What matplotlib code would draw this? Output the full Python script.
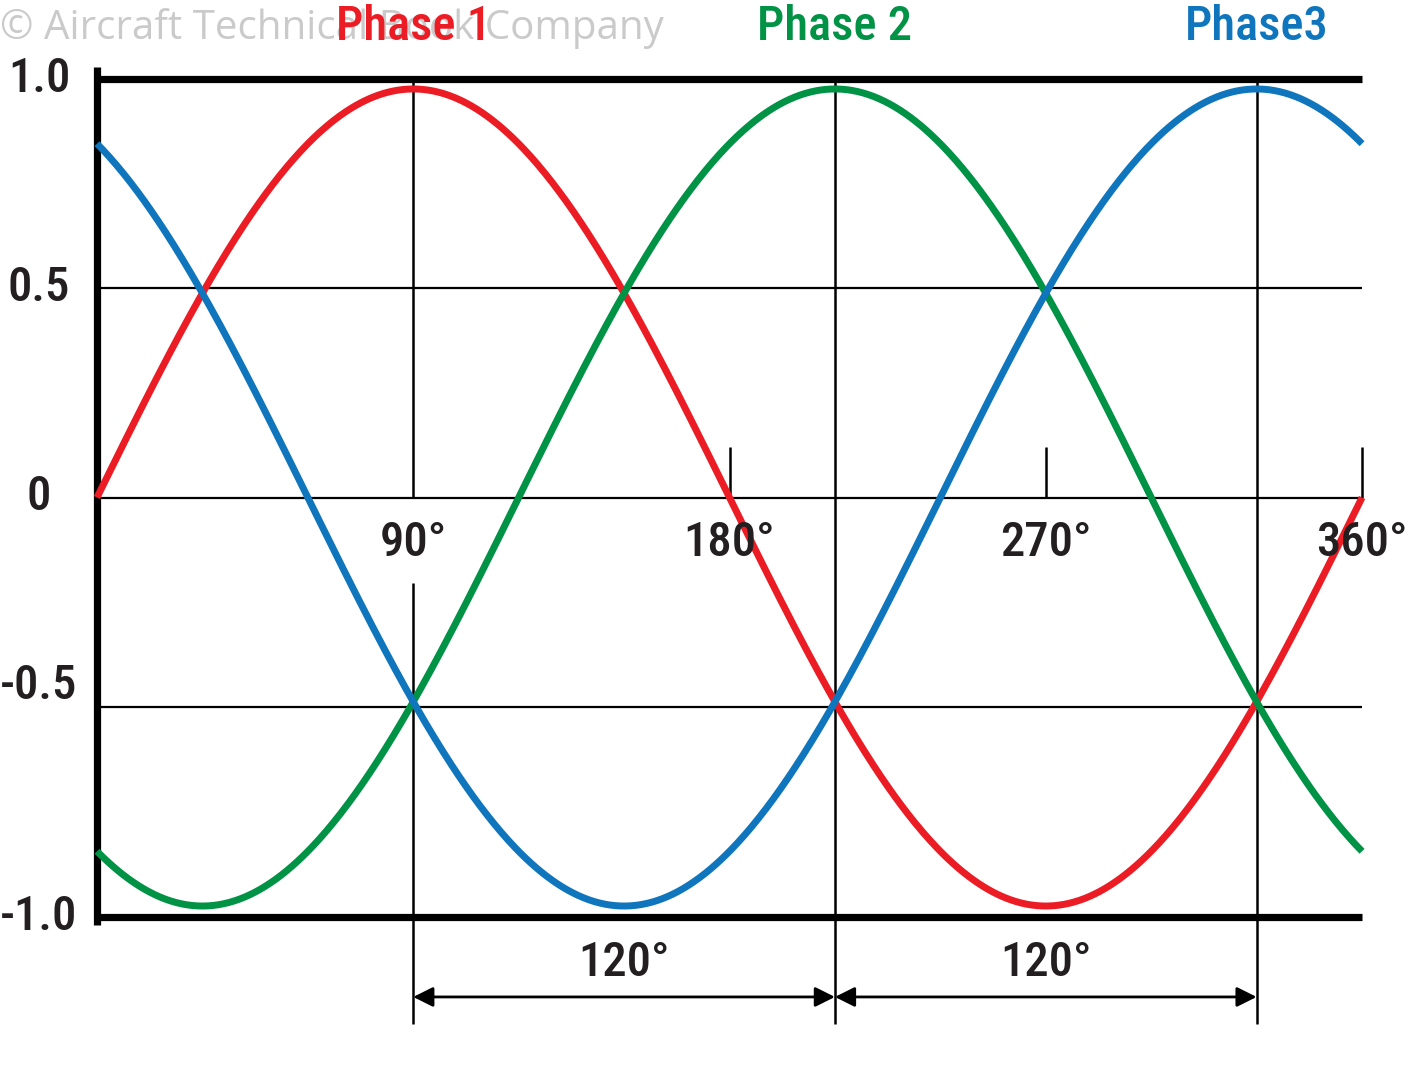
import matplotlib
matplotlib.use("Agg")
import matplotlib.pyplot as plt
import numpy as np
from matplotlib import font_manager

# chart data
phase_names = ["Phase 1", "Phase 2", "Phase3"]
phase_shift_deg = [0, 120, 240]
phase_peak_deg = [90, 210, 330]
amplitude = 0.975
phase_colors = ["#ec1c24", "#009245", "#0f75bc"]

y_ticks = [1.0, 0.5, 0.0, -0.5, -1.0]
y_tick_labels = ["1.0", "0.5", "0", "-0.5", "-1.0"]
x_ticks = [90, 180, 270, 360]
x_tick_labels = ["90°", "180°", "270°", "360°"]
gap_labels = ["120°", "120°"]
watermark = "© Aircraft Technical Book Company"


def pick_font(names):
    for name in names:
        try:
            font_manager.findfont(name, fallback_to_default=False)
            return name
        except Exception:
            pass
    return "DejaVu Sans"


narrow = pick_font(["Liberation Sans Narrow", "Roboto Condensed", "DejaVu Sans"])
plain = pick_font(["Open Sans", "Liberation Sans", "DejaVu Sans"])
label_font = dict(family=[narrow, "DejaVu Sans"], fontsize=35, weight=500)

fig = plt.figure(figsize=(14.08, 10.8), dpi=100)
ax = fig.add_axes((0, 0, 1, 1))
ax.axis("off")

# map pixels: x_px = 97 + 3.514*deg, y_px = 497.5 - 419*v
ax.set_xlim(-97 / 3.514, (1408 - 97) / 3.514)
ax.set_ylim((497.5 - 1080) / 419, 497.5 / 419)

# watermark behind everything
ax.text(-27.6, 1.12, watermark, family=[plain, "DejaVu Sans"], fontsize=29,
        color="#cacaca", ha="left", va="center", zorder=0)

# grid / frame
ax.hlines([-0.5, 0, 0.5], 0, 360, color="black", lw=1.6, zorder=2)
ax.hlines([1.0, -1.0], 0, 360, color="black", lw=5.2, zorder=2)
ax.vlines(0, -1.02, 1.027, color="black", lw=5.2, zorder=3)

# vertical guide lines at the phase peaks
bottom = -1.257
ax.vlines(phase_peak_deg[0], 0, 1.0, color="black", lw=1.8, zorder=2)
ax.vlines(phase_peak_deg[0], bottom, -0.204, color="black", lw=1.8, zorder=2)
ax.vlines(phase_peak_deg[1:], bottom, 1.0, color="black", lw=1.8, zorder=2)

# short ticks
ax.vlines(x_ticks[1:], 0, 0.12, color="black", lw=1.8, zorder=2)

# curves
theta = np.linspace(0, 360, 721)
for shift, col in zip(phase_shift_deg, phase_colors):
    ax.plot(theta, amplitude * np.sin(np.radians(theta - shift)), color=col,
            lw=5, solid_capstyle="butt", zorder=4)

# phase labels
for name, peak, col in zip(phase_names, phase_peak_deg, phase_colors):
    ax.text(peak, 1.123, name, color=col, ha="center", va="center", zorder=5,
            **label_font)

# y labels
for val, lab in zip(y_ticks, y_tick_labels):
    yy = val + (0.05 if val == -0.5 else 0)
    ax.text(-16.5, yy, lab, color="#231f20", ha="center", va="center", zorder=5,
            **label_font)

# x labels
for val, lab in zip(x_ticks, x_tick_labels):
    ax.text(val, -0.109, lab, color="#231f20", ha="center", va="center", zorder=5,
            **label_font)

# 120 degree spans
for i, lab in enumerate(gap_labels):
    a, b = phase_peak_deg[i], phase_peak_deg[i + 1]
    ax.annotate("", xy=(b, -1.192), xytext=(a, -1.192),
                arrowprops=dict(arrowstyle="<|-|>", color="black", lw=2,
                                mutation_scale=30, shrinkA=0, shrinkB=0))
    ax.text((a + b) / 2, -1.111, lab, color="#231f20", ha="center", va="center",
            zorder=5, **label_font)

fig.savefig("out.png", dpi=100)
